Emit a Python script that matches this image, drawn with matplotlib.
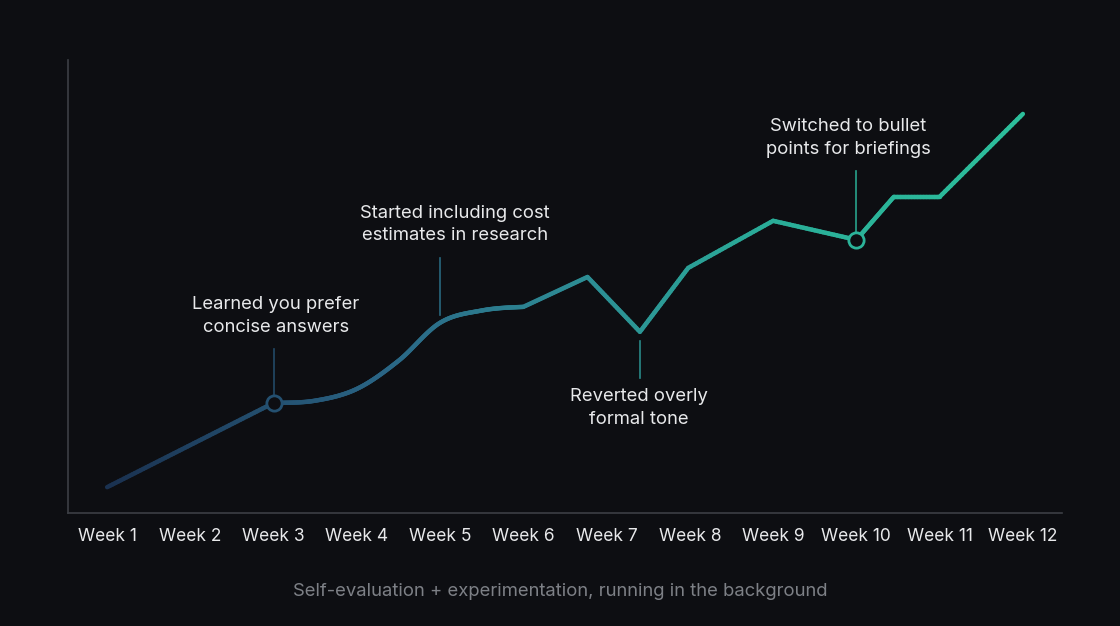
import numpy as np
import matplotlib
matplotlib.use("Agg")
import matplotlib.pyplot as plt
from matplotlib.collections import LineCollection
from matplotlib.colors import LinearSegmentedColormap

plt.rcParams['font.family'] = ['Inter', 'DejaVu Sans']

# ---- data ----
week_labels = ["Week 1", "Week 2", "Week 3", "Week 4", "Week 5", "Week 6",
               "Week 7", "Week 8", "Week 9", "Week 10", "Week 11", "Week 12"]
# straight part before the smooth section
lead_x = [1.0, 2.0, 3.0]
lead_y = [5.7, 15.0, 24.3]
# smooth section (weeks 3 -> 6)
smooth_x = [3.0, 3.5, 4.0, 4.5, 5.0, 5.5, 6.0]
smooth_y = [24.3, 24.8, 27.4, 33.6, 42.0, 44.7, 45.5]
# straight part after the smooth section
tail_x = [6.0, 6.77, 7.4, 7.98, 9.0, 10.0, 10.45, 11.0, 12.0]
tail_y = [45.5, 52.1, 40.0, 54.1, 64.5, 60.3, 69.8, 69.8, 88.1]

annotations = [
    {"text": "Learned you prefer\nconcise answers", "x": 3.0, "y": 24.3,
     "tx": 3.03, "ty": 43.4, "l0": 36.2, "l1": 25.5, "marker": True},
    {"text": "Started including cost\nestimates in research", "x": 5.0, "y": 42.0,
     "tx": 5.18, "ty": 63.7, "l0": 56.3, "l1": 43.8, "marker": False},
    {"text": "Reverted overly\nformal tone", "x": 7.4, "y": 40.0,
     "tx": 7.39, "ty": 23.2, "l0": 38.0, "l1": 29.8, "marker": False},
    {"text": "Switched to bullet\npoints for briefings", "x": 10.0, "y": 60.3,
     "tx": 9.9, "ty": 82.7, "l0": 75.5, "l1": 62.0, "marker": True},
]
subtitle = "Self-evaluation + experimentation, running in the background"

BG = "#0d0e12"
cmap = LinearSegmentedColormap.from_list(
    "g", [(0.0, "#1a3150"), (0.3, "#2a6585"), (0.5, "#2d8a94"),
          (0.72, "#2aac98"), (1.0, "#2cbf9b")])


def catmull(xs, ys, xq):
    xs = np.asarray(xs, float); ys = np.asarray(ys, float)
    h = np.diff(xs)
    m = np.zeros_like(ys)
    m[1:-1] = (ys[2:] - ys[:-2]) / (xs[2:] - xs[:-2])
    m[0] = (ys[1] - ys[0]) / h[0] * 0.5
    m[-1] = (ys[-1] - ys[-2]) / h[-1] * 0.5
    out = np.empty_like(xq)
    for i, x in enumerate(xq):
        k = min(np.searchsorted(xs, x, side='right') - 1, len(xs) - 2)
        t = (x - xs[k]) / h[k]
        h00 = 2*t**3 - 3*t**2 + 1; h10 = t**3 - 2*t**2 + t
        h01 = -2*t**3 + 3*t**2; h11 = t**3 - t**2
        out[i] = h00*ys[k] + h10*h[k]*m[k] + h01*ys[k+1] + h11*h[k]*m[k+1]
    return out


def densify(xs, ys, n=30):
    px, py = [], []
    for i in range(len(xs) - 1):
        t = np.linspace(0, 1, n, endpoint=False)
        px.extend(xs[i] + (xs[i+1] - xs[i]) * t)
        py.extend(ys[i] + (ys[i+1] - ys[i]) * t)
    return np.array(px), np.array(py)


ax1, ay1 = densify(lead_x, lead_y)
sx = np.linspace(smooth_x[0], smooth_x[-1], 240, endpoint=False)
sy = catmull(smooth_x, smooth_y, sx)
ax3, ay3 = densify(tail_x, tail_y)
X = np.concatenate([ax1, sx, ax3, [tail_x[-1]]])
Y = np.concatenate([ay1, sy, ay3, [tail_y[-1]]])

fig = plt.figure(figsize=(11.2, 6.26), dpi=100, facecolor=BG)
ax = fig.add_axes([68/1120, 1 - 513/626, (1062-68)/1120, (513-60)/626])
ax.set_facecolor(BG)
ax.set_xlim(0.53, 12.47)
ax.set_ylim(0, 100)

pts = np.column_stack([X, Y]).reshape(-1, 1, 2)
segs = np.concatenate([pts[:-1], pts[1:]], axis=1)
frac = (X[:-1] - X[0]) / (X[-1] - X[0])
lc = LineCollection(segs, colors=cmap(frac), linewidths=3.2,
                    capstyle='round', joinstyle='round', zorder=3)
ax.add_collection(lc)

for a in annotations:
    c = cmap((a["x"] - X[0]) / (X[-1] - X[0]))
    ax.plot([a["x"], a["x"]], [a["l0"], a["l1"]], color=c, lw=1.2,
            alpha=0.9, zorder=2)
    if a["marker"]:
        ax.plot([a["x"]], [a["y"]], marker='o', ms=11, mfc=BG, mec=c,
                mew=2.0, zorder=5, linestyle='none')
    ax.text(a["tx"], a["ty"], a["text"], ha='center', va='center',
            color="#e8e9eb", fontsize=13.3, linespacing=1.45, zorder=6)

for s in ["top", "right"]:
    ax.spines[s].set_visible(False)
for s in ["left", "bottom"]:
    ax.spines[s].set_color("#3c3f45")
    ax.spines[s].set_linewidth(1.2)
ax.set_xticks(range(1, 13))
ax.set_xticklabels(week_labels)
ax.set_yticks([])
ax.tick_params(axis='x', length=0, pad=11, colors="#e8e9eb", labelsize=12.5)

fig.text(0.5, 1 - 591/626, subtitle, ha='center', va='center',
         color="#7d8086", fontsize=13.3)

fig.savefig("out.png", dpi=100, facecolor=BG)
